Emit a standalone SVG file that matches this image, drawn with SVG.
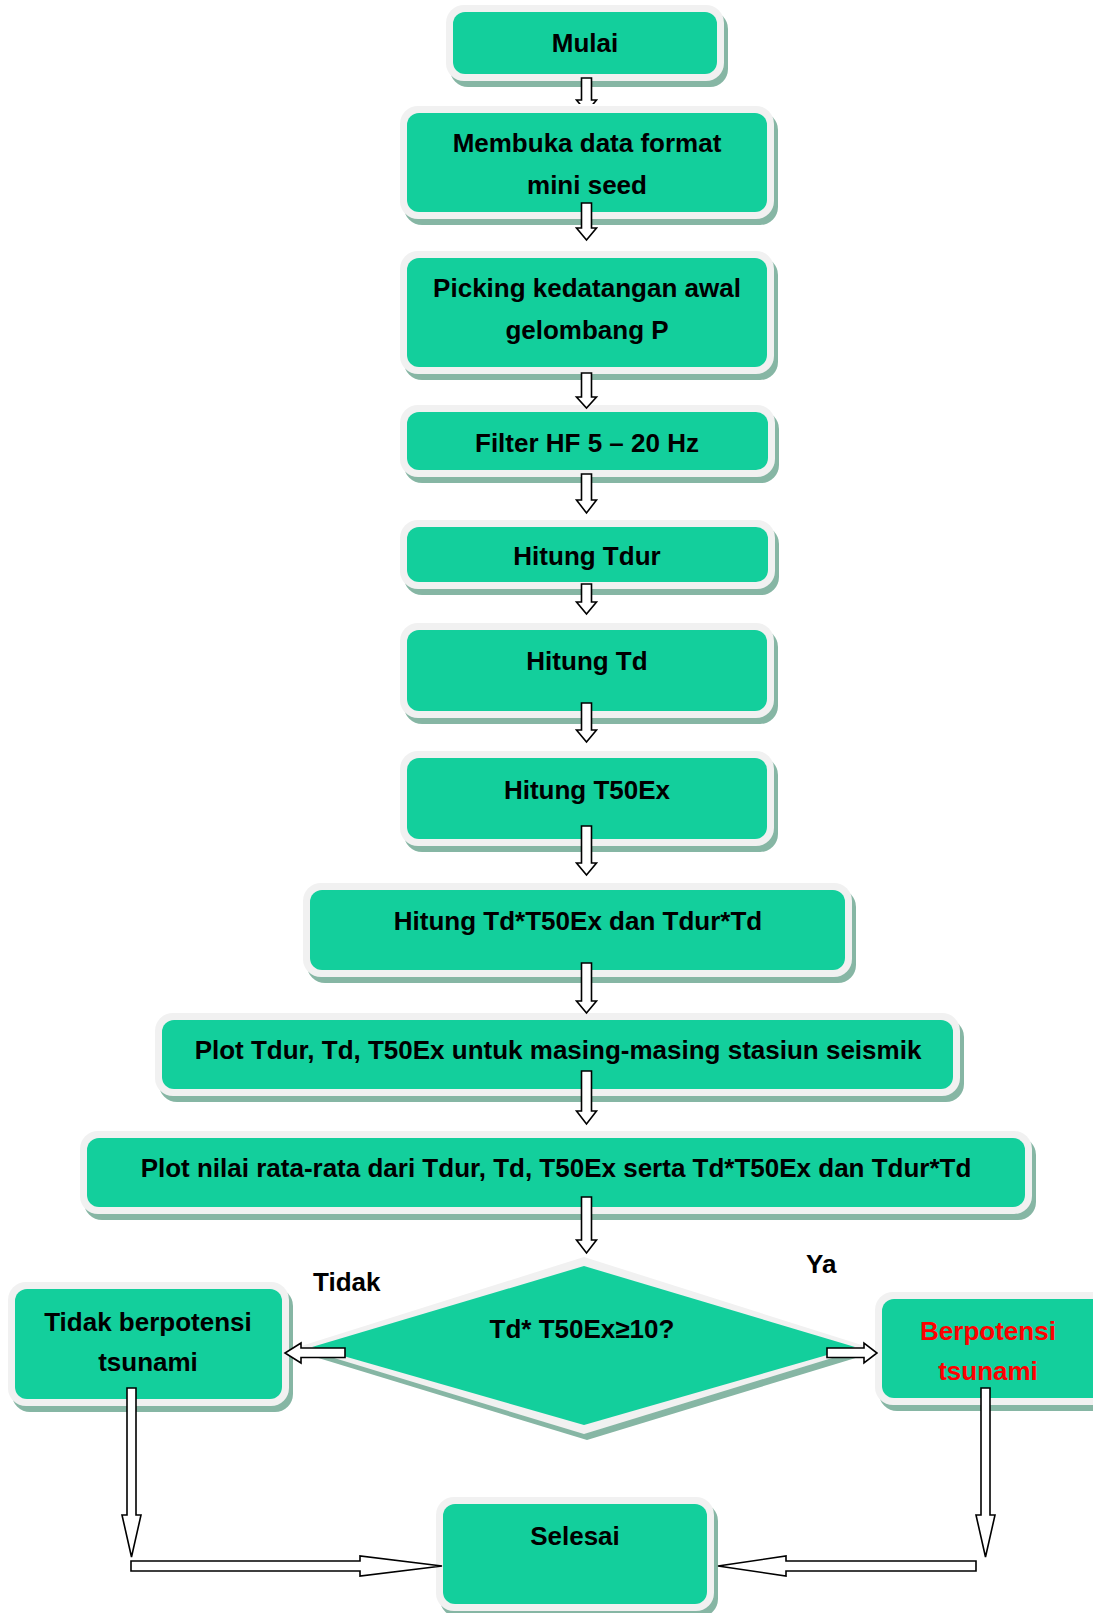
<svg xmlns="http://www.w3.org/2000/svg" width="1093" height="1613" viewBox="0 0 1093 1613">
<defs>
<style>
.shadow{fill:#86b6a4}
.outer{fill:#f1f1f1}
.inner{fill:#13cf9c}
.t{font-family:"Liberation Sans",Arial,sans-serif;font-weight:bold;font-size:26px;fill:#000;text-anchor:middle}
.lbl{font-family:"Liberation Sans",Arial,sans-serif;font-weight:bold;font-size:26px;fill:#000}
.red{fill:#ff0000}
.arr{fill:#fff;stroke:#000;stroke-width:1.6;stroke-linejoin:miter}
</style>
<clipPath id="c1"><rect x="560" y="70" width="60" height="34"/></clipPath>
</defs>
<rect width="1093" height="1613" fill="#fff"/>
<g id="nodes">
<g id="n-mulai">
<rect class="shadow" x="450" y="11" width="278" height="76" rx="18"/>
<rect class="outer" x="446" y="5" width="278" height="76" rx="18"/>
<rect class="inner" x="453" y="12" width="264" height="62" rx="12"/>
<text class="t" x="585" y="52">Mulai</text>
</g>
<g id="n-membuka">
<rect class="shadow" x="404" y="112" width="374" height="113" rx="18"/>
<rect class="outer" x="400" y="106" width="374" height="113" rx="18"/>
<rect class="inner" x="407" y="113" width="360" height="99" rx="12"/>
<text class="t" x="587" y="152">Membuka data format</text>
<text class="t" x="587" y="194">mini seed</text>
</g>
<g id="n-picking">
<rect class="shadow" x="404" y="257" width="374" height="123" rx="18"/>
<rect class="outer" x="400" y="251" width="374" height="123" rx="18"/>
<rect class="inner" x="407" y="258" width="360" height="109" rx="12"/>
<text class="t" x="587" y="297">Picking kedatangan awal</text>
<text class="t" x="587" y="339">gelombang P</text>
</g>
<g id="n-filter">
<rect class="shadow" x="404" y="411" width="375" height="72" rx="18"/>
<rect class="outer" x="400" y="405" width="375" height="72" rx="18"/>
<rect class="inner" x="407" y="412" width="361" height="58" rx="12"/>
<text class="t" x="587" y="452">Filter HF 5 – 20 Hz</text>
</g>
<g id="n-tdur">
<rect class="shadow" x="404" y="526" width="375" height="69" rx="18"/>
<rect class="outer" x="400" y="520" width="375" height="69" rx="18"/>
<rect class="inner" x="407" y="527" width="361" height="55" rx="12"/>
<text class="t" x="587" y="565">Hitung Tdur</text>
</g>
<g id="n-td">
<rect class="shadow" x="404" y="629" width="374" height="95" rx="18"/>
<rect class="outer" x="400" y="623" width="374" height="95" rx="18"/>
<rect class="inner" x="407" y="630" width="360" height="81" rx="12"/>
<text class="t" x="587" y="670">Hitung Td</text>
</g>
<g id="n-t50ex">
<rect class="shadow" x="404" y="757" width="374" height="95" rx="18"/>
<rect class="outer" x="400" y="751" width="374" height="95" rx="18"/>
<rect class="inner" x="407" y="758" width="360" height="81" rx="12"/>
<text class="t" x="587" y="799">Hitung T50Ex</text>
</g>
<g id="n-tdt50">
<rect class="shadow" x="307" y="889" width="549" height="94" rx="18"/>
<rect class="outer" x="303" y="883" width="549" height="94" rx="18"/>
<rect class="inner" x="310" y="890" width="535" height="80" rx="12"/>
<text class="t" x="578" y="930">Hitung Td*T50Ex dan Tdur*Td</text>
</g>
<g id="n-plot1">
<rect class="shadow" x="159" y="1019" width="805" height="83" rx="18"/>
<rect class="outer" x="155" y="1013" width="805" height="83" rx="18"/>
<rect class="inner" x="162" y="1020" width="791" height="69" rx="12"/>
<text class="t" x="558" y="1059">Plot Tdur, Td, T50Ex untuk masing-masing stasiun seismik</text>
</g>
<g id="n-plot2">
<rect class="shadow" x="84" y="1137" width="952" height="83" rx="18"/>
<rect class="outer" x="80" y="1131" width="952" height="83" rx="18"/>
<rect class="inner" x="87" y="1138" width="938" height="69" rx="12"/>
<text class="t" x="556" y="1177">Plot nilai rata-rata dari Tdur, Td, T50Ex serta Td*T50Ex dan Tdur*Td</text>
</g>
<g id="n-decision">
<polygon class="shadow" points="587,1263 872,1353 587,1440 302,1353"/>
<polygon class="outer" points="584,1257 868,1347 584,1434 298,1347"/>
<polygon class="inner" points="584,1266 855,1347 584,1425 312,1347"/>
<text class="t" x="582" y="1338">Td* T50Ex≥10?</text>
</g>
<g id="n-tidak">
<rect class="shadow" x="12" y="1288" width="281" height="124" rx="18"/>
<rect class="outer" x="8" y="1282" width="281" height="124" rx="18"/>
<rect class="inner" x="15" y="1289" width="267" height="110" rx="12"/>
<text class="t" x="148" y="1331">Tidak berpotensi</text>
<text class="t" x="148" y="1371">tsunami</text>
</g>
<g id="n-berpotensi">
<rect class="shadow" x="879" y="1298" width="244" height="113" rx="18"/>
<rect class="outer" x="875" y="1292" width="244" height="113" rx="18"/>
<rect class="inner" x="882" y="1299" width="230" height="99" rx="12"/>
<text class="t red" x="988" y="1340">Berpotensi</text>
<text class="t red" x="988" y="1380">tsunami</text>
</g>
<g id="n-selesai">
<rect class="shadow" x="440" y="1503" width="278" height="114" rx="18"/>
<rect class="outer" x="436" y="1497" width="278" height="114" rx="18"/>
<rect class="inner" x="443" y="1504" width="264" height="100" rx="12"/>
<text class="t" x="575" y="1545">Selesai</text>
</g>
</g>
<g id="labels">
<text class="lbl" x="313" y="1291">Tidak</text>
<text class="lbl" x="806" y="1273">Ya</text>
</g>
<g id="connectors">
<path class="arr" clip-path="url(#c1)" d="M581.5,78 H591.5 V100 H596.5 L586.5,112 L576.5,100 H581.5 Z"/>
<path class="arr" d="M581.5,203 H591.5 V228 H596.5 L586.5,240 L576.5,228 H581.5 Z"/>
<path class="arr" d="M581.5,373 H591.5 V397 H596.5 L586.5,408 L576.5,397 H581.5 Z"/>
<path class="arr" d="M581.5,474 H591.5 V500 H596.5 L586.5,513 L576.5,500 H581.5 Z"/>
<path class="arr" d="M581.5,584 H591.5 V602 H596.5 L586.5,614 L576.5,602 H581.5 Z"/>
<path class="arr" d="M581.5,703 H591.5 V730 H596.5 L586.5,742 L576.5,730 H581.5 Z"/>
<path class="arr" d="M581.5,826 H591.5 V863 H596.5 L586.5,875 L576.5,863 H581.5 Z"/>
<path class="arr" d="M581.5,963 H591.5 V1001 H596.5 L586.5,1013 L576.5,1001 H581.5 Z"/>
<path class="arr" d="M581.5,1071 H591.5 V1111 H596.5 L586.5,1124 L576.5,1111 H581.5 Z"/>
<path class="arr" d="M581.5,1197 H591.5 V1240 H596.5 L586.5,1253 L576.5,1240 H581.5 Z"/>
<path class="arr" d="M345,1348 V1357.5 H301 V1363 L285,1353 L301,1343 V1348 Z"/>
<path class="arr" d="M827,1348 V1357.5 H864 V1363 L877,1353 L864,1343 V1348 Z"/>
<path class="arr" d="M127,1388 H136 V1515 H141 L131.5,1557 L122,1515 H127 Z"/>
<path class="arr" d="M981,1388 H990 V1515 H995 L985.5,1557 L976,1515 H981 Z"/>
<path class="arr" d="M131,1561 H360 V1556 L442,1566 L360,1576 V1571 H131 Z"/>
<path class="arr" d="M976,1561 H786 V1556 L718,1566 L786,1576 V1571 H976 Z"/>
</g>
</svg>
